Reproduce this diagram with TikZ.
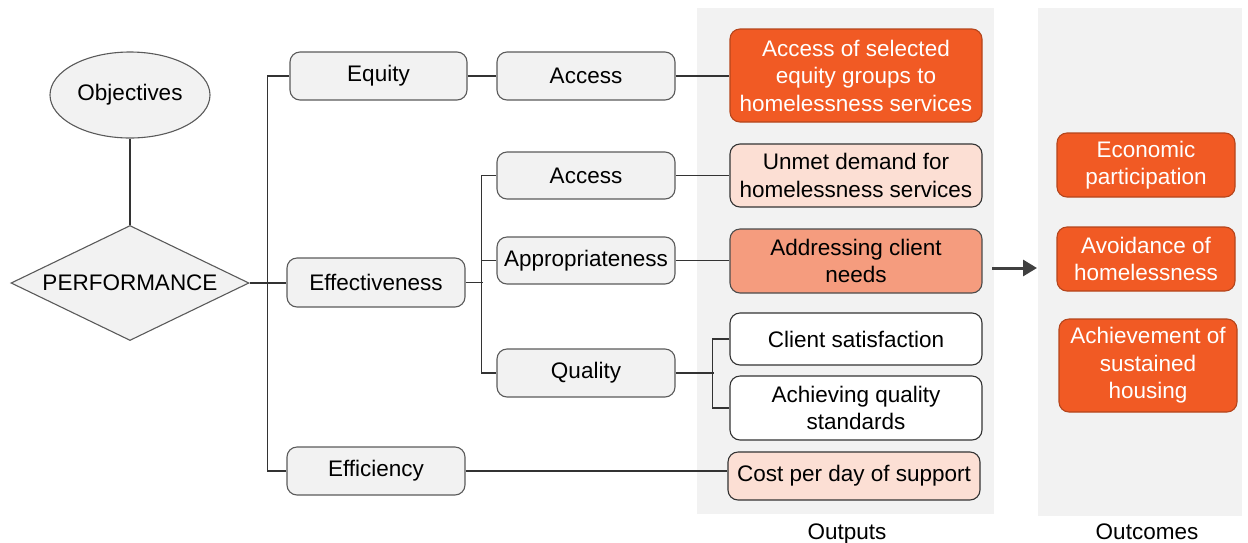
\documentclass[tikz,border=0pt]{standalone}
\usepackage{fontspec}
\setmainfont{Liberation Sans}
\usetikzlibrary{shapes.geometric,arrows.meta}
\definecolor{panelgray}{HTML}{F2F2F2}
\definecolor{boxgray}{HTML}{F2F2F2}
\definecolor{boxline}{HTML}{5A5A5A}
\definecolor{darkorange}{HTML}{F15A24}
\definecolor{orangeline}{HTML}{B5451C}
\definecolor{peach}{HTML}{FCDFD4}
\definecolor{salmon}{HTML}{F59C7E}
\definecolor{linegray}{HTML}{333333}
\definecolor{arrowgray}{HTML}{404040}
\tikzset{
  base/.style={font=\fontsize{22.5}{27.5}\selectfont, align=center, inner sep=0pt, line width=1.1pt, rounded corners=10pt},
  graybox/.style={base, fill=boxgray, draw=boxline},
  orangebox/.style={base, fill=darkorange, draw=orangeline, text=white},
  peachbox/.style={base, fill=peach, draw=black!80},
  salmonbox/.style={base, fill=salmon, draw=black!70},
  whitebox/.style={base, fill=white, draw=black!80},
  conn/.style={draw=linegray, line width=1.1pt},
  panel/.style={fill=panelgray, draw=none},
}
\begin{document}
\begin{tikzpicture}[x=1pt,y=-1pt]
\useasboundingbox (0,0) rectangle (1248,542);
% panels
\fill[panel] (697,8) rectangle (994,514);
\fill[panel] (1038,8) rectangle (1242,516);

% objectives & performance
\node[ellipse, fill=boxgray, draw=boxline, line width=1.1pt, minimum width=160pt, minimum height=86pt, inner sep=0pt, font=\fontsize{22.5}{27.5}\selectfont] (obj) at (130,95) {Objectives};
\node[diamond, aspect=2.07, fill=boxgray, draw=boxline, line width=1.1pt, minimum width=238pt, minimum height=115pt, inner sep=0pt, font=\fontsize{22.5}{27.5}\selectfont] (perf) at (130,283) {PERFORMANCE};

% level 1
\node[graybox, minimum width=177pt, minimum height=48pt] (equity) at (378.5,76) {Equity};
\node[graybox, minimum width=178pt, minimum height=49pt] (effect) at (376,282.5) {Effectiveness};
\node[graybox, minimum width=178pt, minimum height=48pt] (effic) at (376,471) {Efficiency};

% level 2
\node[graybox, minimum width=178pt, minimum height=48pt] (acc1) at (586,76) {Access};
\node[graybox, minimum width=178pt, minimum height=47pt] (acc2) at (586,175.5) {Access};
\node[graybox, minimum width=178pt, minimum height=47pt] (approp) at (586,260.5) {Appropriateness};
\node[graybox, minimum width=178pt, minimum height=48pt] (quality) at (586,373) {Quality};

% outputs
\node[orangebox, minimum width=252pt, minimum height=93pt] (out1) at (856,75.5) {Access of selected\\equity groups to\\homelessness services};
\node[peachbox, minimum width=252pt, minimum height=63pt] (unmet) at (856,175.5) {Unmet demand for\\homelessness services};
\node[salmonbox, minimum width=252pt, minimum height=64pt] (address) at (856,261) {Addressing client\\needs};
\node[whitebox, minimum width=252pt, minimum height=52pt] (client) at (856,339) {Client satisfaction};
\node[whitebox, minimum width=252pt, minimum height=64pt] (achq) at (856,408) {Achieving quality\\standards};
\node[peachbox, minimum width=252pt, minimum height=48pt] (cost) at (854,476) {Cost per day of support};

% outcomes
\node[orangebox, minimum width=178pt, minimum height=64pt] (econ) at (1146,165) {Economic\\participation};
\node[orangebox, minimum width=178pt, minimum height=64pt] (avoid) at (1146,259) {Avoidance of\\homelessness};
\node[orangebox, minimum width=178pt, minimum height=93pt] (sust) at (1148,365.5) {Achievement of\\sustained\\housing};

% labels
\node[font=\fontsize{22.5}{27.5}\selectfont, inner sep=0pt] (lout) at (847,534) {Outputs};
\node[font=\fontsize{22.5}{27.5}\selectfont, inner sep=0pt] (lcome) at (1147,532) {Outcomes};

% connectors
\draw[conn] (obj.south) -- (perf.north);
\draw[conn] (perf.east) -- (perf.east -| effect.west);
\draw[conn] (equity.west) -- ++(-22,0) |- (effic.west);
\draw[conn] (equity.east) -- (equity.east -| acc1.west);
\draw[conn] (acc1.east) -- (acc1.east -| out1.west);
\draw[conn] (acc2.west) -- ++(-15,0) |- (quality.west);
\draw[conn] (effect.east) -- ++(17,0);
\draw[conn] (approp.west) -- ++(-15,0);
\draw[conn] (acc2.east) -- (acc2.east -| unmet.west);
\draw[conn] (approp.east) -- (approp.east -| address.west);
\draw[conn] (client.west) -- ++(-17,0) |- (achq.west);
\draw[conn] (quality.east) -- ++(38,0);
\draw[conn] (effic.east) -- (effic.east -| cost.west);

% arrow
\coordinate (arrs) at (992,268);
\coordinate (arre) at (1037,268);
\draw[draw=arrowgray, line width=3pt, -{Triangle[length=14pt,width=16pt]}] (arrs) -- (arre);
\end{tikzpicture}
\end{document}
